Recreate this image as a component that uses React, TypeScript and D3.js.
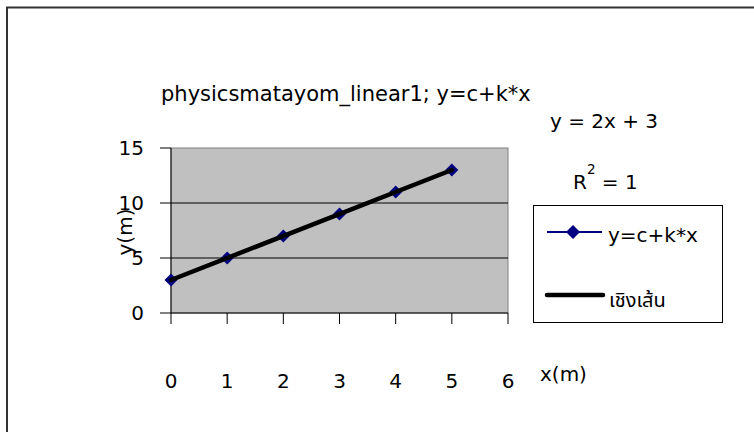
import * as d3 from 'd3';

const xValues = [0, 1, 2, 3, 4, 5];
const yValues = [3, 5, 7, 9, 11, 13];
const xTicks = [0, 1, 2, 3, 4, 5, 6];
const yTicks = [0, 5, 10, 15];
const seriesName = 'y=c+k*x';
const trendName = 'เชิงเส้น';
const title = 'physicsmatayom_linear1; y=c+k*x';

const width = 754;
const height = 432;
const plotLeft = 171;
const plotRight = 508;
const plotTop = 148;
const plotBottom = 313;
const font = '"DejaVu Sans", "Liberation Sans", "Noto Sans Thai", Tahoma, sans-serif';
const fs = 20;

// least squares fit for the trend line
const mx = d3.mean(xValues) ?? 0;
const my = d3.mean(yValues) ?? 0;
const sxy = d3.sum(xValues.map((v, i) => (v - mx) * (yValues[i] - my)));
const sxx = d3.sum(xValues.map(v => (v - mx) ** 2));
const slope = sxy / sxx;
const intercept = my - slope * mx;

const App = () => {
  const x = d3.scaleLinear().domain([0, 6]).range([plotLeft, plotRight]);
  const y = d3.scaleLinear().domain([0, 15]).range([plotBottom, plotTop]);

  const points = xValues.map((v, i) => ({ x: v, y: yValues[i] }));
  const line = d3.line<{ x: number; y: number }>()
    .x(d => x(d.x))
    .y(d => y(d.y));
  const xMin = d3.min(xValues) ?? 0;
  const xMax = d3.max(xValues) ?? 0;
  const trend = [xMin, xMax].map(v => ({ x: v, y: intercept + slope * v }));

  const diamond = (cx: number, cy: number, r: number) =>
    `M${cx},${cy - r}L${cx + r},${cy}L${cx},${cy + r}L${cx - r},${cy}Z`;

  return (
    <svg width={width} height={height} style={{ position: 'absolute', left: 0, top: 0 }} fontFamily={font}>
      <rect x={0} y={0} width={width} height={height} fill="white" />
      <path d={`M7,${height}V7.5H${width}`} fill="none" stroke="#333" strokeWidth={2} />

      <text x={161} y={101} fontSize={21}>{title}</text>

      <rect x={plotLeft} y={plotTop} width={plotRight - plotLeft} height={plotBottom - plotTop}
        fill="#c0c0c0" stroke="#808080" strokeWidth={1} />
      {yTicks.filter(t => t > 0 && t < 15).map(t => (
        <line key={t} x1={plotLeft} x2={plotRight} y1={y(t)} y2={y(t)} stroke="#000" strokeWidth={1} />
      ))}

      {/* y axis */}
      <line x1={plotLeft} x2={plotLeft} y1={plotTop} y2={plotBottom} stroke="#000" />
      {yTicks.map(t => (
        <g key={t}>
          <line x1={plotLeft - 11} x2={plotLeft} y1={y(t)} y2={y(t)} stroke="#000" />
          <text x={144} y={y(t)} dy="0.36em" textAnchor="end" fontSize={fs}>{t}</text>
        </g>
      ))}
      <text transform={`translate(132,232) rotate(-90)`} textAnchor="middle" fontSize={fs}>y(m)</text>

      {/* x axis */}
      <line x1={plotLeft} x2={plotRight} y1={plotBottom} y2={plotBottom} stroke="#000" />
      {xTicks.map(t => (
        <g key={t}>
          <line x1={x(t)} x2={x(t)} y1={plotBottom} y2={plotBottom + 11} stroke="#000" />
          <text x={x(t)} y={388} textAnchor="middle" fontSize={fs}>{t}</text>
        </g>
      ))}
      <text x={540} y={381} fontSize={fs}>x(m)</text>

      {/* series */}
      <path d={line(points) ?? ''} fill="none" stroke="#000080" strokeWidth={2} />
      {points.map((p, i) => (
        <path key={i} d={diamond(x(p.x), y(p.y), 6.5)} fill="#000080" />
      ))}
      <path d={line(trend) ?? ''} fill="none" stroke="#000" strokeWidth={4.5} strokeLinecap="round" />

      {/* trend label */}
      <text x={550} y={128} fontSize={fs}>{`y = ${slope}x + ${intercept}`}</text>
      <text x={573} y={189} fontSize={fs}>
        R<tspan dy={-15} fontSize={13.5}>2</tspan><tspan dy={15}> = 1</tspan>
      </text>

      {/* legend */}
      <rect x={533.5} y={205.5} width={189} height={117} fill="white" stroke="#000" strokeWidth={1} />
      <line x1={547} x2={602} y1={232} y2={232} stroke="#000080" strokeWidth={2} />
      <path d={diamond(573, 232, 7)} fill="#000080" />
      <text x={608} y={242} fontSize={fs}>{seriesName}</text>
      <line x1={547} x2={603} y1={295} y2={295} stroke="#000" strokeWidth={4.5} strokeLinecap="round" />
      <text x={609} y={307} fontSize={fs}>{trendName}</text>
    </svg>
  );
};

export default App;
